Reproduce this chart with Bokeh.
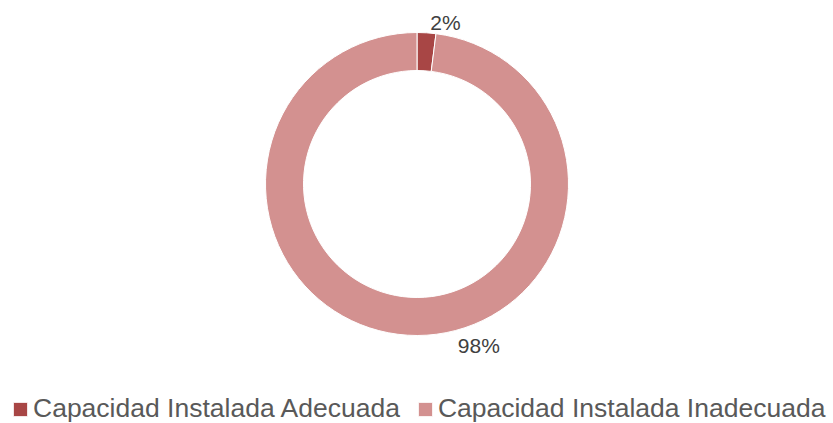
import numpy as np
from bokeh.plotting import figure
from bokeh.models import Range1d, Legend, LegendItem, ColumnDataSource
from bokeh.core.properties import value
from bokeh.embed import file_html
from bokeh.resources import INLINE

# ---- data ----
categories = ["Capacidad Instalada Adecuada", "Capacidad Instalada Inadecuada"]
shares = [2, 98]
pct_labels = ["2%", "98%"]
colors = ["#A84645", "#D39190"]

# ---- layout / style (pixels) ----
W, H = 833, 423
cx, cy = 416.5, 239.5
r_out, r_in = 151.5, 113.5
label_angle_deg = [80.0, -69.0]
label_radius = [163.5, 172.7]

frac = np.array(shares, dtype=float) / np.sum(shares)
ends = np.pi / 2 - 2 * np.pi * np.cumsum(frac)
starts = np.concatenate([[np.pi / 2], ends[:-1]])

src = ColumnDataSource(dict(cat=categories, start=starts, end=ends, color=colors))

p = figure(width=W, height=H, output_backend="svg", toolbar_location=None,
           x_range=Range1d(0, W), y_range=Range1d(0, H), min_border=0,
           outline_line_color=None, background_fill_color="white")
p.axis.visible = False
p.grid.visible = False

r = p.annular_wedge(x=cx, y=cy, inner_radius=r_in, outer_radius=r_out,
                    start_angle="start", end_angle="end", direction="clock",
                    fill_color="color", line_color="white", line_width=1, source=src)

la = np.radians(label_angle_deg)
lx = cx + np.array(label_radius) * np.cos(la)
ly = cy + np.array(label_radius) * np.sin(la)
p.text(x=lx, y=ly, text=pct_labels, text_align="center", text_baseline="middle",
       text_font=value("Liberation Sans"), text_font_size="21px", text_color="#404040")

items = [LegendItem(label=c, renderers=[r], index=i) for i, c in enumerate(categories)]
legend = Legend(items=items, orientation="horizontal", location=(11, -1),
                glyph_width=18, glyph_height=18, label_standoff=4, spacing=16,
                padding=0, margin=0, border_line_alpha=0, background_fill_alpha=0,
                label_text_font="Liberation Sans", label_text_font_size="26.5px",
                label_text_color="#595959")
p.add_layout(legend, "center")

open("out.html", "w").write(file_html(p, INLINE))
